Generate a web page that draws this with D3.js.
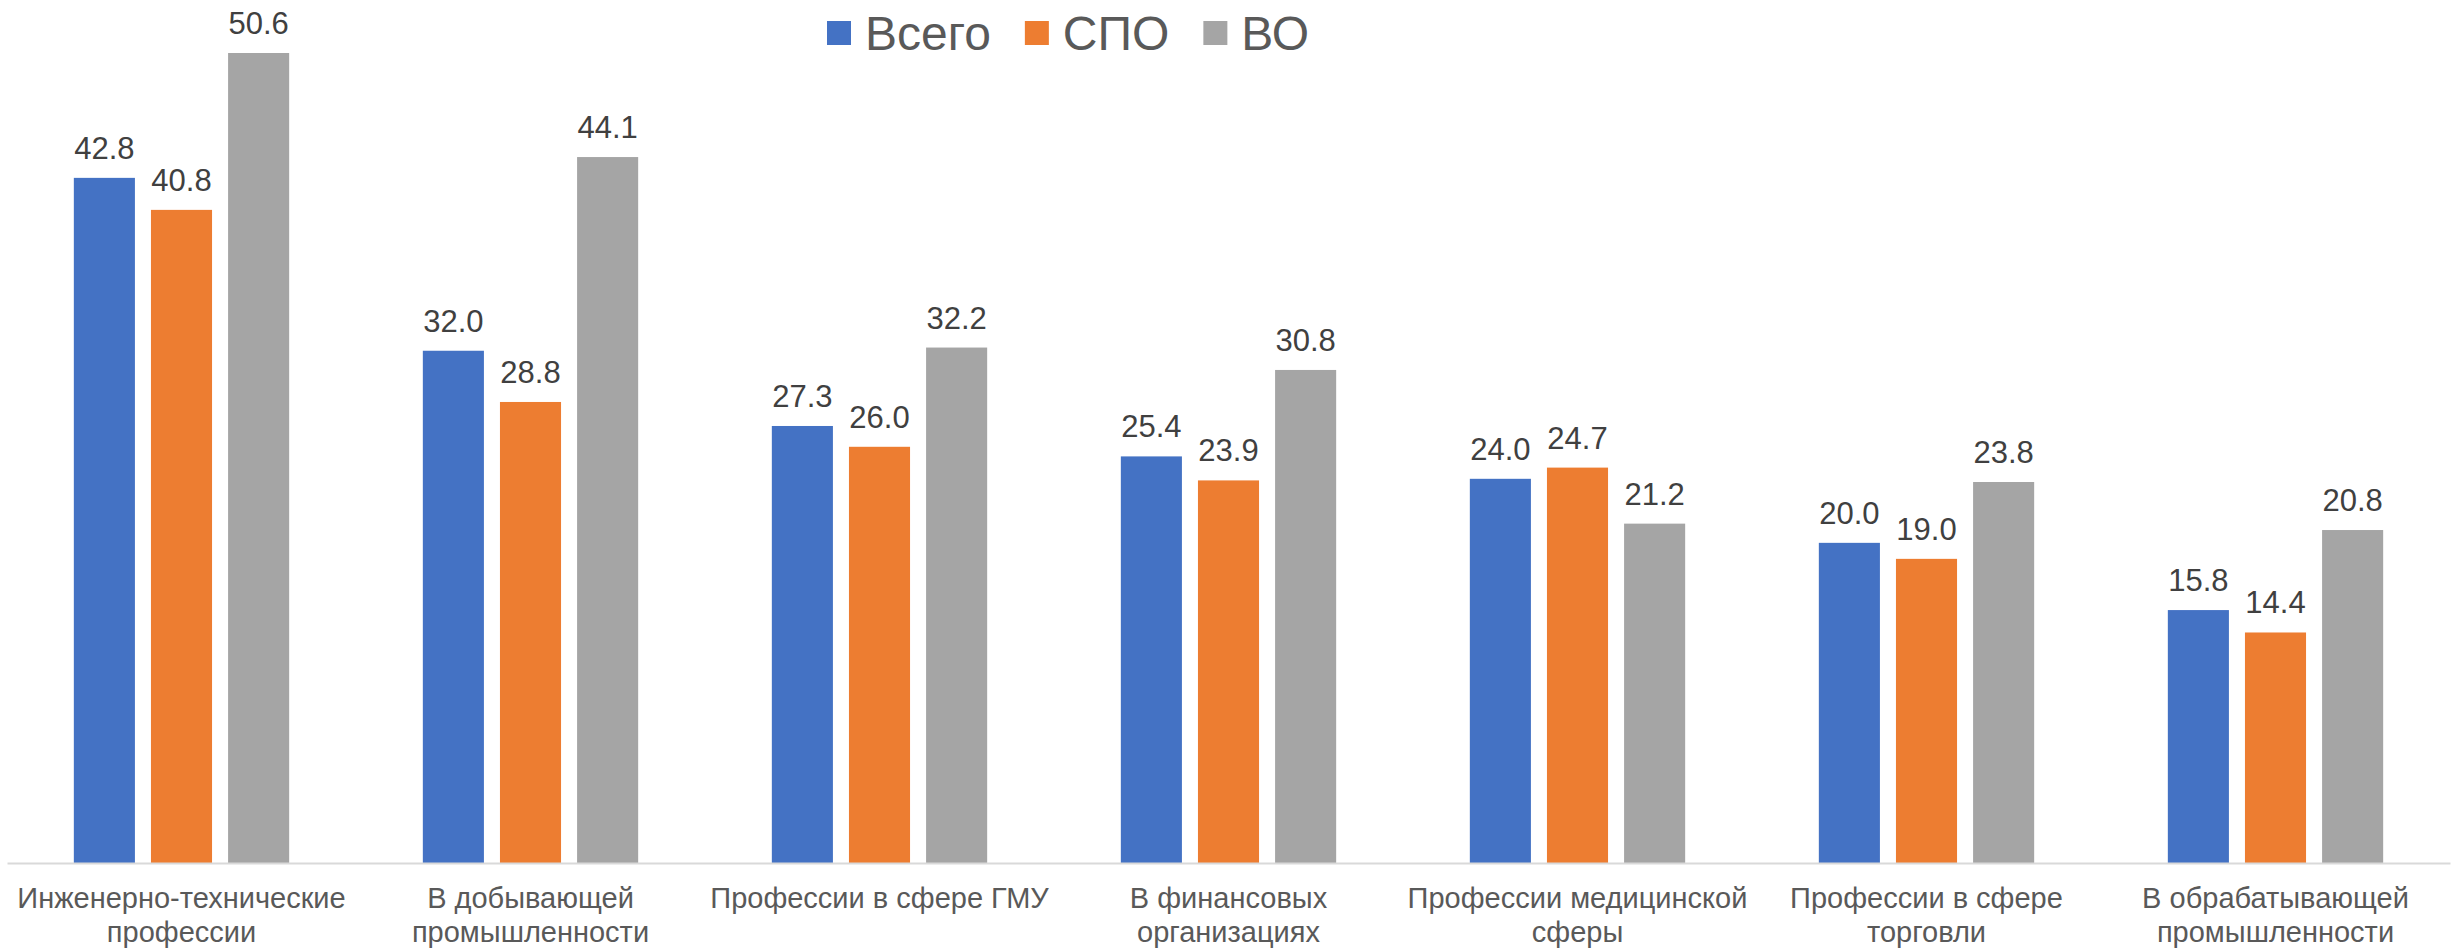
<!DOCTYPE html>
<html>
<head>
<meta charset="utf-8">
<script src="https://cdn.jsdelivr.net/npm/d3@7"></script>
<style>
  html, body { margin: 0; padding: 0; background: #fff; }
  svg { display: block; font-family: "Liberation Sans", Arial, sans-serif; }
</style>
</head>
<body>
<svg id="chart" width="2459" height="952"></svg>
<script>
// ---- data ----
const categories = [
  "Инженерно-технические\nпрофессии",
  "В добывающей\nпромышленности",
  "Профессии в сфере ГМУ",
  "В финансовых\nорганизациях",
  "Профессии медицинской\nсферы",
  "Профессии в сфере\nторговли",
  "В обрабатывающей\nпромышленности"
];
const seriesNames = ["Всего", "СПО", "ВО"];
const totalValues = [42.8, 32.0, 27.3, 25.4, 24.0, 20.0, 15.8];
const spoValues   = [40.8, 28.8, 26.0, 23.9, 24.7, 19.0, 14.4];
const voValues    = [50.6, 44.1, 32.2, 30.8, 21.2, 23.8, 20.8];
const seriesColors = ["#4472C4", "#ED7D31", "#A5A5A5"];

const seriesValues = [totalValues, spoValues, voValues];
const rows = categories.map((c, i) => ({
  cat: c,
  vals: seriesNames.map((s, j) => ({ key: s, value: seriesValues[j][i], color: seriesColors[j] }))
}));

// ---- layout ----
const svg = d3.select("#chart");
const xLeft = 7, xRight = 2450, yBase = 863, yTopRef = 53;

const x0 = d3.scaleBand()
  .domain(categories)
  .range([xLeft, xRight])
  .paddingInner(0.383)
  .paddingOuter(0.1915);

const x1 = d3.scaleBand()
  .domain(seriesNames)
  .range([0, x0.bandwidth()])
  .paddingInner(0.208)
  .paddingOuter(0);

const y = d3.scaleLinear()
  .domain([0, 50.6])
  .range([yBase, yTopRef]);

// bars
const groups = svg.append("g").selectAll("g")
  .data(rows)
  .join("g")
  .attr("transform", d => `translate(${x0(d.cat)},0)`);

groups.selectAll("rect")
  .data(d => d.vals)
  .join("rect")
  .attr("x", d => x1(d.key))
  .attr("y", d => y(d.value))
  .attr("width", x1.bandwidth())
  .attr("height", d => y(0) - y(d.value))
  .attr("fill", d => d.color);

// value labels
groups.selectAll("text")
  .data(d => d.vals)
  .join("text")
  .attr("x", d => x1(d.key) + x1.bandwidth() / 2)
  .attr("y", d => y(d.value) - 19)
  .attr("text-anchor", "middle")
  .attr("font-size", 31)
  .attr("fill", "#404040")
  .text(d => d.value.toFixed(1));

// x axis
const xAxis = d3.axisBottom(x0).tickSize(0).tickPadding(0).tickFormat("");
const axisG = svg.append("g")
  .attr("transform", `translate(0,${yBase})`)
  .call(xAxis);
axisG.select(".domain").attr("stroke", "#D9D9D9").attr("stroke-width", 2);

// category labels
const catLabels = svg.append("g").selectAll("text")
  .data(categories)
  .join("text")
  .attr("x", d => x0(d) + x0.bandwidth() / 2)
  .attr("y", 908)
  .attr("text-anchor", "middle")
  .attr("font-size", 29)
  .attr("fill", "#595959");
catLabels.each(function(d) {
  const lines = d.split("\n");
  const t = d3.select(this);
  lines.forEach((ln, i) => {
    t.append("tspan")
      .attr("x", x0(d) + x0.bandwidth() / 2)
      .attr("dy", i === 0 ? 0 : 34)
      .text(ln);
  });
});

// legend
const legend = svg.append("g");
let lx = 827;
seriesNames.forEach((s, i) => {
  legend.append("rect")
    .attr("x", lx).attr("y", 21)
    .attr("width", 24).attr("height", 24)
    .attr("fill", seriesColors[i]);
  const t = legend.append("text")
    .attr("x", lx + 38).attr("y", 50)
    .attr("font-size", 48)
    .attr("fill", "#595959")
    .text(s);
  const w = t.node().getComputedTextLength();
  lx = lx + 38 + w + 34;
});
</script>
</body>
</html>
